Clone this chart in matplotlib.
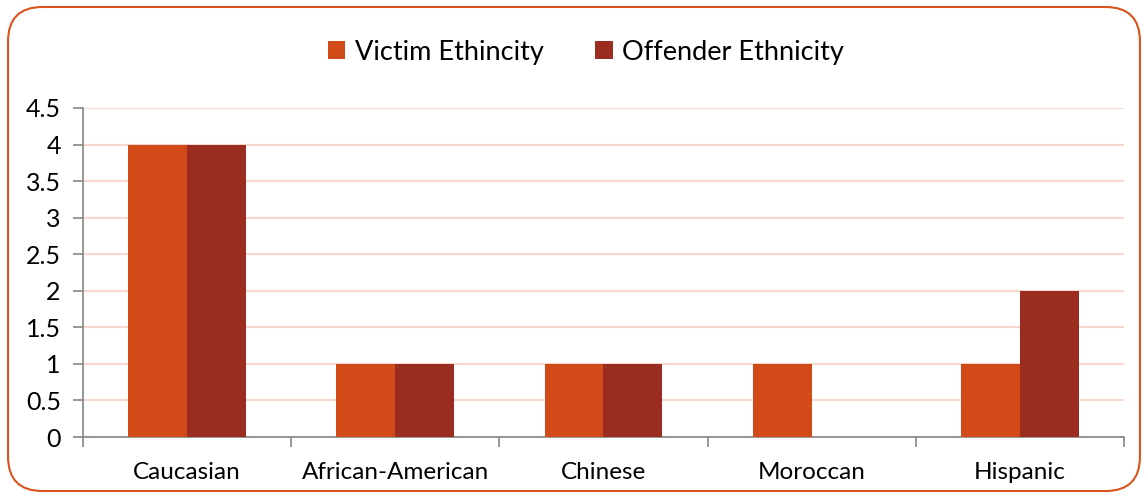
import numpy as np
import matplotlib
matplotlib.use('Agg')
from matplotlib import pyplot as plt
from matplotlib.patches import FancyBboxPatch

categories = ['Caucasian', 'African-American', 'Chinese', 'Moroccan', 'Hispanic']
victim = [4, 1, 1, 1, 1]
offender = [4, 1, 1, 0, 2]
series_names = ['Victim Ethincity', 'Offender Ethnicity']
yticks = [0, 0.5, 1, 1.5, 2, 2.5, 3, 3.5, 4, 4.5]
ytick_labels = ['0', '0.5', '1', '1.5', '2', '2.5', '3', '3.5', '4', '4.5']

c_victim = '#D24A18'
c_offender = '#9B2D20'
grid_col = '#F6D8CF'
axis_col = '#868686'

plt.rcParams['font.family'] = ['Lato', 'DejaVu Sans']

fig = plt.figure(figsize=(11.48, 4.99), dpi=100)
ax = fig.add_axes([0.0723, 0.1242, 0.9067, 0.6594])

x = np.arange(len(categories))
w = 0.283
b1 = ax.bar(x - w / 2, victim, w, color=c_victim, label=series_names[0], zorder=3)
b2 = ax.bar(x + w / 2, offender, w, color=c_offender, label=series_names[1], zorder=3)

ax.set_xlim(-0.5, len(categories) - 0.5)
ax.set_ylim(0, 4.5)
ax.set_yticks(yticks)
ax.set_yticklabels(ytick_labels, fontsize=18)
ax.set_xticks(x)
ax.set_xticklabels(categories, fontsize=17.5)
ax.tick_params(axis='x', length=0, pad=18)
ax.set_xticks(np.arange(len(categories) + 1) - 0.5, minor=True)
ax.tick_params(axis='x', which='minor', length=7, color=axis_col, width=1.2, direction='out')
ax.tick_params(axis='y', length=7, color=axis_col, width=1.2, pad=9)

ax.yaxis.grid(True, color=grid_col, linewidth=1.5, zorder=0)
ax.set_axisbelow(True)
for s in ['top', 'right']:
    ax.spines[s].set_visible(False)
for s in ['left', 'bottom']:
    ax.spines[s].set_color(axis_col)
    ax.spines[s].set_linewidth(1.2)

fig.legend(handles=[b1, b2], loc='center', bbox_to_anchor=(0.5105, 0.895), ncol=2,
           frameon=False, fontsize=19.5, handlelength=0.65, handleheight=0.65,
           handletextpad=0.35, columnspacing=1.9)

border = FancyBboxPatch((0.007, 0.016), 0.986, 0.97, boxstyle='round,pad=0,rounding_size=0.03',
                        transform=fig.transFigure, fill=False, edgecolor='#D9541E',
                        linewidth=1.5, mutation_aspect=1148 / 499)
fig.patches.append(border)

fig.savefig('out.png', dpi=100)
